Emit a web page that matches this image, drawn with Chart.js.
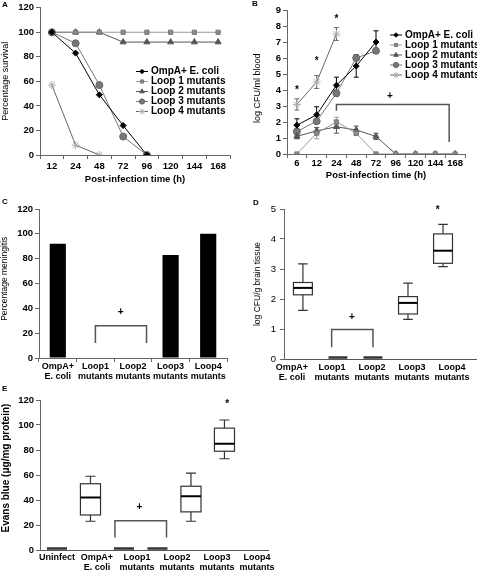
<!DOCTYPE html>
<html>
<head>
<meta charset="utf-8">
<script src="https://cdn.jsdelivr.net/npm/chart.js@4.4.0/dist/chart.umd.min.js"></script>
<style>
  body { margin: 0; background: #fff; }
  #wrap { position: relative; width: 477px; height: 572px; overflow: hidden; background: #fff; }
  canvas { position: absolute; }
  .tag { position: absolute; font: bold 8px "Liberation Sans", Arial, sans-serif; color: #000; }
</style>
</head>
<body>
<div id="wrap">
  <canvas id="chartA" width="240" height="195" style="left:0;top:0"></canvas>
  <canvas id="chartB" width="240" height="195" style="left:237px;top:0"></canvas>
  <canvas id="chartC" width="240" height="200" style="left:0;top:195px"></canvas>
  <canvas id="chartD" width="240" height="190" style="left:237px;top:195px"></canvas>
  <canvas id="chartE" width="300" height="187" style="left:0;top:385px"></canvas>
  <div class="tag" style="left:2px;top:0">A</div>
  <div class="tag" style="left:252px;top:-1px">B</div>
  <div class="tag" style="left:2px;top:197px">C</div>
  <div class="tag" style="left:253px;top:198px">D</div>
  <div class="tag" style="left:2px;top:384px">E</div>
</div>
<script>
const FONT = '"Liberation Sans", Arial, Helvetica, sans-serif';
const NB = "\u00a0";

// panel A - percentage survival
const hoursA = ["12", "24", "48", "72", "96", "120", "144", "168"];
const survOmpA = [100, 83, 49, 24, 0];
const survLoop1 = [100, 100, 100, 100, 100, 100, 100, 100];
const survLoop2 = [100, 100, 100, 92, 92, 92, 92, 92];
const survLoop3 = [100, 91, 57, 15, 0];
const survLoop4 = [57, 8, 0];

// panel B - bacteremia, mean and error
const hoursB = ["6", "12", "24", "48", "72", "96", "120", "144", "168"];
const bloodOmpA = [1.8, 2.45, 4.3, 5.5, 7.0];
const bloodOmpAErr = [0.4, 0.5, 0.5, 0.7, 0.7];
const bloodLoop1 = [0, 1.3, 2.0, 1.3, 0, 0, 0, 0, 0];
const bloodLoop1Err = [0, 0.35, 0.3, 0.15, 0, 0, 0, 0, 0];
const bloodLoop2 = [1.1, 1.45, 1.7, 1.5, 1.1, 0, 0, 0, 0];
const bloodLoop2Err = [0.15, 0.2, 0.4, 0.25, 0.2, 0, 0, 0, 0];
const bloodLoop3 = [1.4, 2.05, 3.8, 6.0, 6.45];
const bloodLoop3Err = [0.2, 0.1, 0.2, 0.15, 0.15];
const bloodLoop4 = [3.1, 4.5, 7.5];
const bloodLoop4Err = [0.35, 0.4, 0.4];
const bloodStars = [[0, 4.0], [1, 5.8], [2, 8.4]];
const bloodPlus = [4.7, 3.6];
const bloodBracket = [[2, 2.7], [2, 3.1], [7.7, 3.1], [7.7, 0.75]];

const seriesNames = ["OmpA+ E. coli", "Loop 1 mutants", "Loop 2 mutants", "Loop 3 mutants", "Loop 4 mutants"];

// panel C - percentage meningitis
const groupsC = [["OmpA+", "E. coli"], ["Loop1", "mutants"], ["Loop2", "mutants"], ["Loop3", "mutants"], ["Loop4", "mutants"]];
const meningitisPct = [92, 0, 0, 83, 100];
const meningPlus = [1.67, 37];
const meningBracket = [[1, 12], [1, 26], [2.36, 26], [2.36, 12]];

// panel D - brain CFU, [min, q1, median, q3, max]
const groupsD = groupsC;
const brainBoxes = [
  [1.62, 2.14, 2.37, 2.55, 3.17],
  [0, 0, 0, 0, 0],
  [0, 0, 0, 0, 0],
  [1.32, 1.5, 1.87, 2.08, 2.53],
  [3.08, 3.19, 3.61, 4.17, 4.49]
];
const brainStar = [3.85, 4.97];
const brainPlus = [1.4, 1.39];
const brainBracket = [[0.82, 0.39], [0.82, 0.98], [2.0, 0.98], [2.0, 0.39]];

// panel E - Evans blue, [min, q1, median, q3, max]
const groupsE = ["Uninfect", ["OmpA+", "E. coli"], ["Loop1", "mutants"], ["Loop2", "mutants"], ["Loop3", "mutants"], ["Loop4", "mutants"]];
const evansBoxes = [
  [0, 0, 0, 0, 0],
  [23, 28, 42, 53, 59],
  [0, 0, 0, 0, 0],
  [0, 0, 0, 0, 0],
  [23, 30.5, 43, 51, 61.5],
  [73, 79, 85, 97.5, 104]
];
const evansStar = [5.08, 117];
const evansPlus = [2.46, 34];
const evansBracket = [[1.73, 10], [1.73, 23.5], [3.27, 23.5], [3.27, 10]];

Chart.defaults.font.family = FONT;
Chart.defaults.color = "#000";
Chart.defaults.animation = false;

const lineStyles = [
  { borderColor: "#000", pointStyle: "rectRot", pointRadius: 3, pointBackgroundColor: "#000", pointBorderColor: "#000" },
  { borderColor: "#999", pointStyle: "rect", pointRadius: 3, pointBackgroundColor: "#8c8c8c", pointBorderColor: "#777" },
  { borderColor: "#555", pointStyle: "triangle", pointRadius: 3.5, pointBackgroundColor: "#555", pointBorderColor: "#555" },
  { borderColor: "#777", pointStyle: "circle", pointRadius: 3.5, pointBackgroundColor: "#777", pointBorderColor: "#666" },
  { borderColor: "#666", pointStyle: "star", pointRadius: 4, pointBackgroundColor: "#aaa", pointBorderColor: "#aaa" }
];

function lineSet(i, values, errors) {
  return Object.assign({ label: seriesNames[i], data: values, errors: errors, borderWidth: 1, pointBorderWidth: 1, fill: false, tension: 0 }, lineStyles[i]);
}

const tickFont = { size: 9.5, weight: "bold" };
const groupFont = { size: 9, weight: "bold", lineHeight: 1.1 };

function yAxis(max, step, width, title, titleFont) {
  return {
    min: 0, max: max,
    afterFit: (s) => { s.width = width; },
    ticks: { stepSize: step, font: tickFont, padding: 2 },
    grid: { display: true, drawOnChartArea: false, tickLength: 4, color: "#666" },
    border: { color: "#666" },
    title: { display: true, text: title, font: titleFont, padding: 0 }
  };
}

// legend drawn inside the plot area
function makeLegend(x, y, step) {
  return {
    id: "insideLegend",
    afterDraw(chart) {
      const ctx = chart.ctx;
      ctx.save();
      ctx.font = "bold 10px " + FONT;
      ctx.textBaseline = "middle";
      chart.data.datasets.forEach((ds, i) => {
        const yy = y + i * step;
        ctx.strokeStyle = ds.borderColor;
        ctx.lineWidth = 1;
        ctx.beginPath(); ctx.moveTo(x, yy); ctx.lineTo(x + 12, yy); ctx.stroke();
        ctx.fillStyle = ds.pointBackgroundColor;
        ctx.strokeStyle = ds.pointBorderColor;
        Chart.helpers.drawPoint(ctx, { pointStyle: ds.pointStyle, radius: ds.pointRadius * 0.75, borderWidth: 1, rotation: 0 }, x + 6, yy);
        ctx.fillStyle = "#000";
        ctx.fillText(ds.label, x + 15, yy);
      });
      ctx.restore();
    }
  };
}

// error bars for datasets carrying an `errors` array
const errorBars = {
  id: "errorBars",
  beforeDatasetsDraw(chart) {
    const ctx = chart.ctx, ys = chart.scales.y;
    ctx.save();
    chart.data.datasets.forEach((ds, i) => {
      if (!ds.errors) return;
      const meta = chart.getDatasetMeta(i);
      ctx.strokeStyle = ds.borderColor;
      ctx.lineWidth = 1;
      meta.data.forEach((pt, j) => {
        const e = ds.errors[j];
        if (!e) return;
        const top = ys.getPixelForValue(ds.data[j] + e);
        const bot = ys.getPixelForValue(ds.data[j] - e);
        ctx.beginPath();
        ctx.moveTo(pt.x, top); ctx.lineTo(pt.x, bot);
        ctx.moveTo(pt.x - 2.5, top); ctx.lineTo(pt.x + 2.5, top);
        ctx.moveTo(pt.x - 2.5, bot); ctx.lineTo(pt.x + 2.5, bot);
        ctx.stroke();
      });
    });
    ctx.restore();
  }
};

// significance brackets and symbols, in data coordinates
function makeMarks(axisId, brackets, notes) {
  return {
    id: "marks",
    afterDraw(chart) {
      const ctx = chart.ctx, xs = chart.scales[axisId], ys = chart.scales.y;
      ctx.save();
      ctx.strokeStyle = "#555";
      ctx.lineWidth = 1.5;
      brackets.forEach((b) => {
        ctx.beginPath();
        b.forEach(([vx, vy], k) => {
          const px = xs.getPixelForValue(vx), py = ys.getPixelForValue(vy);
          if (k) ctx.lineTo(px, py); else ctx.moveTo(px, py);
        });
        ctx.stroke();
      });
      ctx.fillStyle = "#000";
      ctx.font = "bold 10px " + FONT;
      ctx.textAlign = "center";
      ctx.textBaseline = "middle";
      notes.forEach(([txt, vx, vy]) => ctx.fillText(txt, xs.getPixelForValue(vx), ys.getPixelForValue(vy)));
      ctx.restore();
    }
  };
}

// box-and-whisker drawing from [min, q1, median, q3, max]
function makeBoxes(axisId, boxes, halfFrac) {
  return {
    id: "boxes",
    afterDatasetsDraw(chart) {
      const ctx = chart.ctx, xs = chart.scales[axisId], ys = chart.scales.y;
      const unit = Math.abs(xs.getPixelForValue(1) - xs.getPixelForValue(0));
      const hw = unit * halfFrac, cap = hw / 2;
      ctx.save();
      boxes.forEach((b, i) => {
        const cx = xs.getPixelForValue(i);
        const [mn, q1, md, q3, mx] = b.map((v) => ys.getPixelForValue(v));
        if (b[4] === b[0]) {
          ctx.strokeStyle = "#333";
          ctx.lineWidth = 2.5;
          ctx.beginPath(); ctx.moveTo(cx - hw, md - 1.5); ctx.lineTo(cx + hw, md - 1.5); ctx.stroke();
          return;
        }
        ctx.strokeStyle = "#333";
        ctx.lineWidth = 1.2;
        ctx.beginPath();
        ctx.moveTo(cx, q3); ctx.lineTo(cx, mx);
        ctx.moveTo(cx - cap, mx); ctx.lineTo(cx + cap, mx);
        ctx.moveTo(cx, q1); ctx.lineTo(cx, mn);
        ctx.moveTo(cx - cap, mn); ctx.lineTo(cx + cap, mn);
        ctx.stroke();
        ctx.fillStyle = "#fff";
        ctx.fillRect(cx - hw, q3, hw * 2, q1 - q3);
        ctx.strokeRect(cx - hw, q3, hw * 2, q1 - q3);
        ctx.strokeStyle = "#000";
        ctx.lineWidth = 2;
        ctx.beginPath(); ctx.moveTo(cx - hw, md); ctx.lineTo(cx + hw, md); ctx.stroke();
      });
      ctx.restore();
    }
  };
}

function categoryX(height, tickPad, font) {
  return {
    type: "category",
    offset: true,
    afterFit: (s) => { s.height = height; },
    ticks: { font: font, padding: tickPad, maxRotation: 0, minRotation: 0, autoSkip: false },
    grid: { display: true, drawOnChartArea: false, offset: true, tickLength: 4, color: "#666" },
    border: { color: "#666" }
  };
}

function groupAxis(labels, min, max, height, tickPad) {
  return {
    type: "linear",
    min: min, max: max,
    afterFit: (s) => { s.height = height; },
    afterBuildTicks: (s) => { s.ticks = labels.map((_, i) => ({ value: i })); },
    ticks: { font: groupFont, padding: tickPad, maxRotation: 0, minRotation: 0, autoSkip: false,
      callback: (v) => labels[v] },
    grid: { display: false, drawTicks: false },
    border: { color: "#555" }
  };
}

// A
const xA = categoryX(30, 2, tickFont);
xA.title = { display: true, text: "Post-infection time (h)", font: { size: 9.5, weight: "bold" }, padding: 0 };
new Chart(document.getElementById("chartA"), {
  type: "line",
  data: {
    labels: hoursA,
    datasets: [lineSet(0, survOmpA), lineSet(1, survLoop1), lineSet(2, survLoop2), lineSet(3, survLoop3), lineSet(4, survLoop4)]
  },
  options: {
    responsive: false, devicePixelRatio: 1,
    layout: { padding: { top: 7, right: 10, bottom: 10, left: 0 } },
    plugins: { legend: { display: false }, tooltip: { enabled: false } },
    scales: { x: xA, y: yAxis(120, 20, 40, "Percentage survival", { size: 9 }) }
  },
  plugins: [makeLegend(136, 71.5, 10)]
});

// B
const xB = categoryX(27, 0, tickFont);
xB.title = { display: true, text: "Post-infection time (h)", font: { size: 9.5, weight: "bold" }, padding: 0 };
const yB = yAxis(9, 1, 50, "log CFU/ml blood" + NB.repeat(5), { size: 9 });
yB.title.padding = { top: 15 };
new Chart(document.getElementById("chartB"), {
  type: "line",
  data: {
    labels: hoursB,
    datasets: [
      lineSet(0, bloodOmpA, bloodOmpAErr), lineSet(1, bloodLoop1, bloodLoop1Err), lineSet(2, bloodLoop2, bloodLoop2Err),
      lineSet(3, bloodLoop3, bloodLoop3Err), lineSet(4, bloodLoop4, bloodLoop4Err)
    ]
  },
  options: {
    responsive: false, devicePixelRatio: 1,
    layout: { padding: { top: 10, right: 12, bottom: 14, left: 0 } },
    plugins: { legend: { display: false }, tooltip: { enabled: false } },
    scales: { x: xB, y: yB }
  },
  plugins: [errorBars, makeLegend(153, 35, 10),
    makeMarks("x", [bloodBracket], bloodStars.map((p) => ["*", p[0], p[1]]).concat([["+", bloodPlus[0], bloodPlus[1]]]))]
});

// C
new Chart(document.getElementById("chartC"), {
  type: "bar",
  data: {
    labels: groupsC,
    datasets: [{ data: meningitisPct, backgroundColor: "#000", categoryPercentage: 1, barPercentage: 0.43 }]
  },
  options: {
    responsive: false, devicePixelRatio: 1,
    layout: { padding: { top: 14, right: 13, bottom: 0, left: 0 } },
    plugins: { legend: { display: false }, tooltip: { enabled: false } },
    scales: {
      x: categoryX(37, 0, groupFont),
      y: yAxis(120, 20, 39, NB.repeat(4) + "Percentage meningitis", { size: 8.5 })
    }
  },
  plugins: [makeMarks("x", [meningBracket], [["+", meningPlus[0], meningPlus[1]]])]
});

// D
const yD = yAxis(5, 1, 47, "log CFU/g brain tissue", { size: 8.5 });
yD.ticks = { stepSize: 1, font: { size: 9.5 }, padding: 4 };
yD.title.padding = { top: 16 };
new Chart(document.getElementById("chartD"), {
  type: "scatter",
  data: { datasets: [] },
  options: {
    responsive: false, devicePixelRatio: 1,
    layout: { padding: { top: 14, right: 0, bottom: 0, left: 0 } },
    plugins: { legend: { display: false }, tooltip: { enabled: false } },
    scales: {
      xd: { type: "linear", display: false, min: -0.54, max: 4.97 },
      x: groupAxis(groupsD, -0.2, 4.625, 26, 4),
      y: yD
    }
  },
  plugins: [makeBoxes("xd", brainBoxes, 0.27),
    makeMarks("xd", [brainBracket], [["*", brainStar[0], brainStar[1]], ["+", brainPlus[0], brainPlus[1]]])]
});

// E
const yE = yAxis(120, 20, 40, NB.repeat(5) + "Evans blue (\u03bcg/mg protein)", { size: 10, weight: "bold" });
new Chart(document.getElementById("chartE"), {
  type: "scatter",
  data: { datasets: [] },
  options: {
    responsive: false, devicePixelRatio: 1,
    layout: { padding: { top: 15, right: 32, bottom: 0, left: 0 } },
    plugins: { legend: { display: false }, tooltip: { enabled: false } },
    scales: {
      xd: { type: "linear", display: false, min: -0.507, max: 6.3 },
      x: groupAxis(groupsE, -0.425, 5.275, 22, 3),
      y: yE
    }
  },
  plugins: [makeBoxes("xd", evansBoxes, 0.3),
    makeMarks("xd", [evansBracket], [["*", evansStar[0], evansStar[1]], ["+", evansPlus[0], evansPlus[1]]])]
});
</script>
</body>
</html>
